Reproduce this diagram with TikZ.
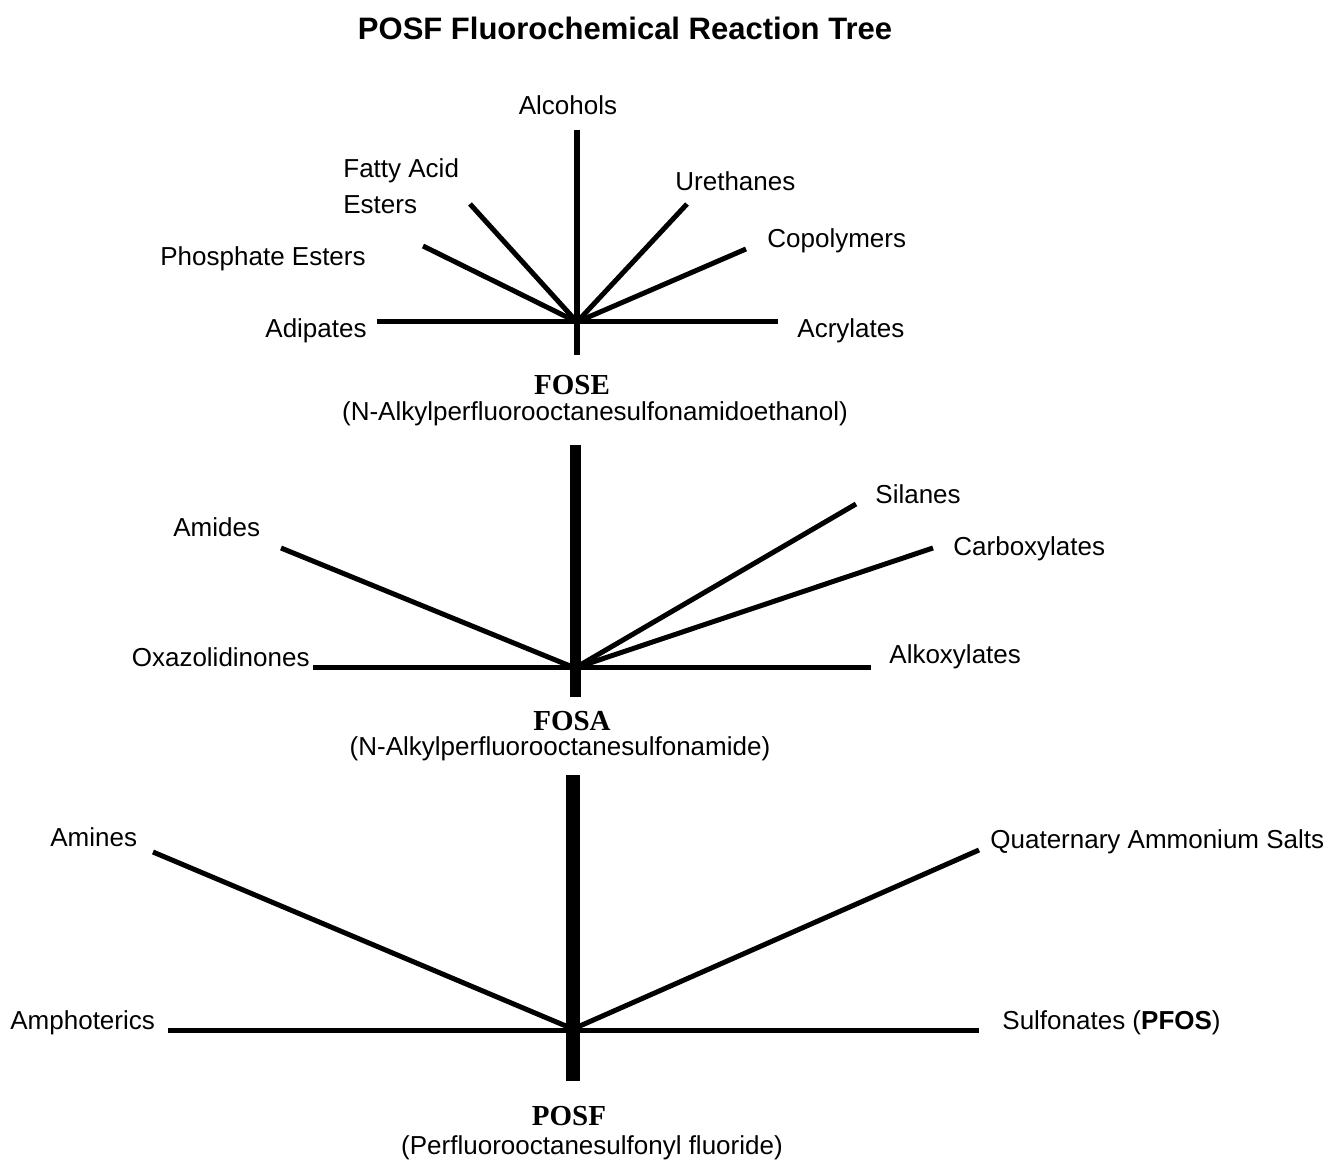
\documentclass[tikz,border=0pt]{standalone}
\usepackage{fontspec}
\setmainfont{Liberation Sans}
\newfontfamily\timesfont{Liberation Serif}
\usetikzlibrary{positioning}

\begin{document}
\begin{tikzpicture}[x=0.5pt, y=-0.5pt,
        branch/.style={line width=2.5pt},
        lbl/.style={inner sep=0pt, font=\fontsize{13}{18}\selectfont},
        chem/.style={inner sep=0pt, font=\timesfont\bfseries\fontsize{14.5}{16}\selectfont}]
            \useasboundingbox (0, 0) rectangle (1328, 1165);

            \node[inner sep=0pt, font=\bfseries\fontsize{15.5}{18}\selectfont] (title) at (625, 28) {POSF Fluorochemical Reaction Tree};

            \coordinate (hubE) at (577, 322);
            \coordinate (topE) at (577, 130);
            \coordinate (botE) at (577, 355);
            \coordinate (adipE) at (377, 322);
            \coordinate (acrylE) at (778, 322);
            \coordinate (phosE) at (423, 246);
            \coordinate (fattyE) at (470, 204);
            \coordinate (urethE) at (687, 204);
            \coordinate (copolyE) at (746, 249);

            \node[lbl] (alcohols) at (568, 105) {Alcohols};
            \node[lbl, anchor=west, align=left] (fatty) at (343, 186) {Fatty Acid\\Esters};
            \node[lbl, anchor=west] (ureth) at (675, 181) {Urethanes};
            \node[lbl, anchor=west] (phos) at (160, 259) {Phosphate Esters};
            \node[lbl, anchor=west] (copoly) at (767, 241) {Copolymers};
            \node[lbl, anchor=east] (adip) at (367, 331) {Adipates};
            \node[lbl, anchor=west] (acryl) at (797, 331) {Acrylates};
            \node[chem] (fose) at (572, 385) {FOSE};
            \node[lbl] (foseName) at (595, 414) {(N-Alkylperfluorooctanesulfonamidoethanol)};

            \draw[line width=3.2pt] (topE) -- (botE);
            \draw[branch] (adipE) -- (acrylE);
            \draw[branch] (hubE) -- (phosE);
            \draw[branch] (hubE) -- (fattyE);
            \draw[branch] (hubE) -- (urethE);
            \draw[branch] (hubE) -- (copolyE);

            \coordinate (hubA) at (575, 668);
            \coordinate (topA) at (575, 445);
            \coordinate (botA) at (575, 697);
            \coordinate (oxaA) at (313, 668);
            \coordinate (alkoxA) at (871, 668);
            \coordinate (amidA) at (281, 548);
            \coordinate (silA) at (856, 504);
            \coordinate (carbA) at (933, 548);

            \node[lbl, anchor=west] (amides) at (173, 527) {Amides};
            \node[lbl, anchor=west] (silanes) at (875, 494) {Silanes};
            \node[lbl, anchor=west] (carb) at (953, 549) {Carboxylates};
            \node[lbl, anchor=east] (oxa) at (310, 657) {Oxazolidinones};
            \node[lbl, anchor=west] (alkox) at (889, 657) {Alkoxylates};
            \node[chem] (fosa) at (572, 721) {FOSA};
            \node[lbl] (fosaName) at (560, 749) {(N-Alkylperfluorooctanesulfonamide)};

            \draw[line width=5.5pt] (topA) -- (botA);
            \draw[branch] (oxaA) -- (alkoxA);
            \draw[branch] (hubA) -- (amidA);
            \draw[branch] (hubA) -- (silA);
            \draw[branch] (hubA) -- (carbA);

            \coordinate (hubF) at (573, 1029);
            \coordinate (topF) at (573, 775);
            \coordinate (botF) at (573, 1081);
            \coordinate (amphF) at (168, 1030);
            \coordinate (sulfF) at (979, 1030);
            \coordinate (aminF) at (153, 852);
            \coordinate (quatF) at (979, 850);

            \node[lbl, anchor=west] (amines) at (50, 837) {Amines};
            \node[lbl, anchor=west] (quat) at (990, 842) {Quaternary Ammonium Salts};
            \node[lbl, anchor=west] (amph) at (10, 1023) {Amphoterics};
            \node[lbl, anchor=west] (sulf) at (1002, 1023) {Sulfonates (\textbf{PFOS})};
            \node[chem] (posf) at (569, 1116) {POSF};
            \node[lbl] (posfName) at (592, 1148) {(Perfluorooctanesulfonyl fluoride)};

            \draw[line width=7pt] (topF) -- (botF);
            \draw[branch] (amphF) -- (sulfF);
            \draw[branch] (hubF) -- (aminF);
            \draw[branch] (hubF) -- (quatF);
        \end{tikzpicture}
\end{document}
